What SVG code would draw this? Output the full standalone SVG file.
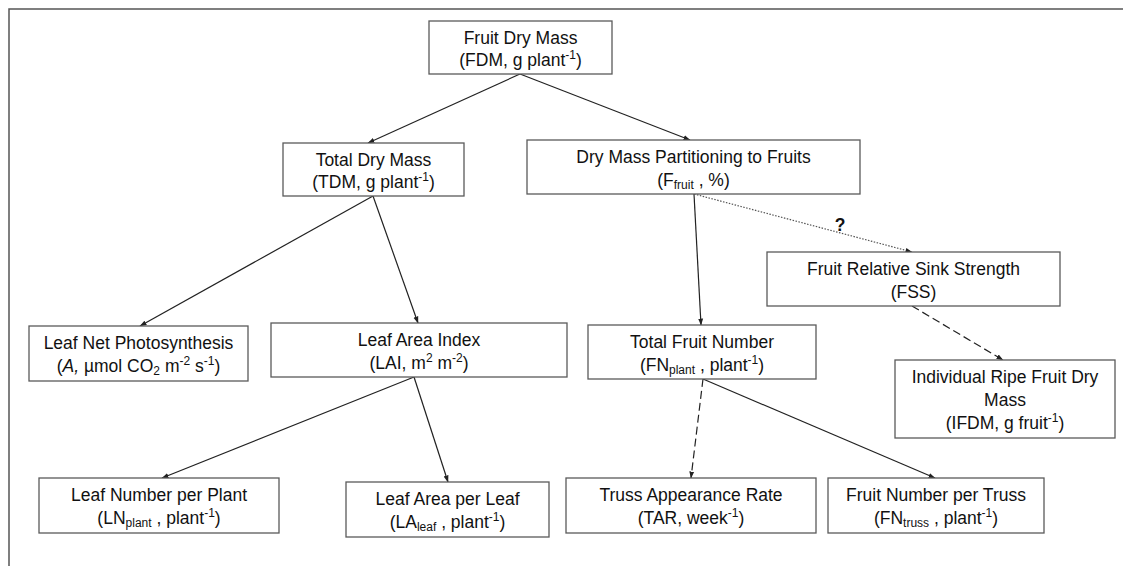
<svg xmlns="http://www.w3.org/2000/svg" width="1123" height="566" viewBox="0 0 1123 566">
<defs>
<marker id="ah" markerUnits="userSpaceOnUse" markerWidth="7" markerHeight="7" viewBox="0 0 7 7" refX="6.5" refY="3.5" orient="auto">
<path d="M0,1 L7,3.5 L0,6 Z" fill="#222"/>
</marker>
<style>
.box{fill:#fff;stroke:#5a5a5a;stroke-width:1.3}
.t{font-family:"Liberation Sans",Arial,sans-serif;font-size:17.5px;fill:#111;text-anchor:middle}
.s{font-size:12px}
.c{fill:none;stroke:#222;stroke-width:1.2}
.dash{stroke-dasharray:8 4}
.dot{stroke:#555;stroke-dasharray:1.5 1.5}
.frame{fill:none;stroke:#555;stroke-width:1.5}
</style>
</defs>
<rect width="1123" height="566" fill="#fff"/>
<path class="frame" d="M9,566 L9,9 L1123,9"/>
<g id="connectors">
<line class="c" x1="520" y1="74" x2="368" y2="143" marker-end="url(#ah)"/>
<line class="c" x1="520" y1="74" x2="690" y2="140" marker-end="url(#ah)"/>
<line class="c" x1="373" y1="196" x2="140" y2="326" marker-end="url(#ah)"/>
<line class="c" x1="373" y1="196" x2="418" y2="323" marker-end="url(#ah)"/>
<line class="c" x1="694" y1="194" x2="701" y2="325" marker-end="url(#ah)"/>
<line class="c dot" x1="694" y1="194" x2="912" y2="252" marker-end="url(#ah)"/>
<line class="c dash" x1="912" y1="306" x2="1003" y2="360" marker-end="url(#ah)"/>
<line class="c" x1="414" y1="377" x2="162" y2="478" marker-end="url(#ah)"/>
<line class="c" x1="414" y1="377" x2="448" y2="482" marker-end="url(#ah)"/>
<line class="c dash" x1="703" y1="379" x2="691" y2="478" marker-end="url(#ah)"/>
<line class="c" x1="703" y1="379" x2="935" y2="478" marker-end="url(#ah)"/>
<text class="t" x="840" y="231" font-weight="bold">?</text>
</g>
<g id="fdm">
<rect class="box" x="429" y="21" width="183" height="53"/>
<text class="t" x="520.5" y="44">Fruit Dry Mass</text>
<text class="t" x="520.5" y="66">(FDM, g plant<tspan class="s" baseline-shift="super">-1</tspan>)</text>
</g>
<g id="tdm">
<rect class="box" x="283" y="143" width="181" height="53"/>
<text class="t" x="373.5" y="166">Total Dry Mass</text>
<text class="t" x="373.5" y="188">(TDM, g plant<tspan class="s" baseline-shift="super">-1</tspan>)</text>
</g>
<g id="dmpf">
<rect class="box" x="527" y="140" width="333" height="54"/>
<text class="t" x="693.5" y="163">Dry Mass Partitioning to Fruits</text>
<text class="t" x="693.5" y="186">(F<tspan class="s" baseline-shift="-3">fruit</tspan> , %)</text>
</g>
<g id="frss">
<rect class="box" x="767" y="252" width="293" height="54"/>
<text class="t" x="913.5" y="275">Fruit Relative Sink Strength</text>
<text class="t" x="913.5" y="298">(FSS)</text>
</g>
<g id="lnp">
<rect class="box" x="29" y="326" width="219" height="55"/>
<text class="t" x="138.5" y="349">Leaf Net Photosynthesis</text>
<text class="t" x="138.5" y="372">(<tspan font-style="italic">A,</tspan> µmol CO<tspan class="s" baseline-shift="-3">2</tspan> m<tspan class="s" baseline-shift="super">-2</tspan> s<tspan class="s" baseline-shift="super">-1</tspan>)</text>
</g>
<g id="lai">
<rect class="box" x="271" y="323" width="296" height="54"/>
<text class="t" x="419" y="346">Leaf Area Index</text>
<text class="t" x="419" y="369">(LAI, m<tspan class="s" baseline-shift="super">2</tspan> m<tspan class="s" baseline-shift="super">-2</tspan>)</text>
</g>
<g id="tfn">
<rect class="box" x="588" y="325" width="228" height="54"/>
<text class="t" x="702" y="348">Total Fruit Number</text>
<text class="t" x="702" y="371">(FN<tspan class="s" baseline-shift="-3">plant</tspan> , plant<tspan class="s" baseline-shift="super">-1</tspan>)</text>
</g>
<g id="irfdm">
<rect class="box" x="895" y="360" width="220" height="78"/>
<text class="t" x="1005" y="383">Individual Ripe Fruit Dry</text>
<text class="t" x="1005" y="406">Mass</text>
<text class="t" x="1005" y="429">(IFDM, g fruit<tspan class="s" baseline-shift="super">-1</tspan>)</text>
</g>
<g id="lnpp">
<rect class="box" x="39" y="478" width="240" height="55"/>
<text class="t" x="159" y="501">Leaf Number per Plant</text>
<text class="t" x="159" y="524">(LN<tspan class="s" baseline-shift="-3">plant</tspan> , plant<tspan class="s" baseline-shift="super">-1</tspan>)</text>
</g>
<g id="lapl">
<rect class="box" x="346" y="482" width="203" height="55"/>
<text class="t" x="447.5" y="505">Leaf Area per Leaf</text>
<text class="t" x="447.5" y="528">(LA<tspan class="s" baseline-shift="-3">leaf</tspan> , plant<tspan class="s" baseline-shift="super">-1</tspan>)</text>
</g>
<g id="tar">
<rect class="box" x="566" y="478" width="250" height="55"/>
<text class="t" x="691" y="501">Truss Appearance Rate</text>
<text class="t" x="691" y="524">(TAR, week<tspan class="s" baseline-shift="super">-1</tspan>)</text>
</g>
<g id="fnt">
<rect class="box" x="828" y="478" width="216" height="55"/>
<text class="t" x="936" y="501">Fruit Number per Truss</text>
<text class="t" x="936" y="524">(FN<tspan class="s" baseline-shift="-3">truss</tspan> , plant<tspan class="s" baseline-shift="super">-1</tspan>)</text>
</g>
</svg>
